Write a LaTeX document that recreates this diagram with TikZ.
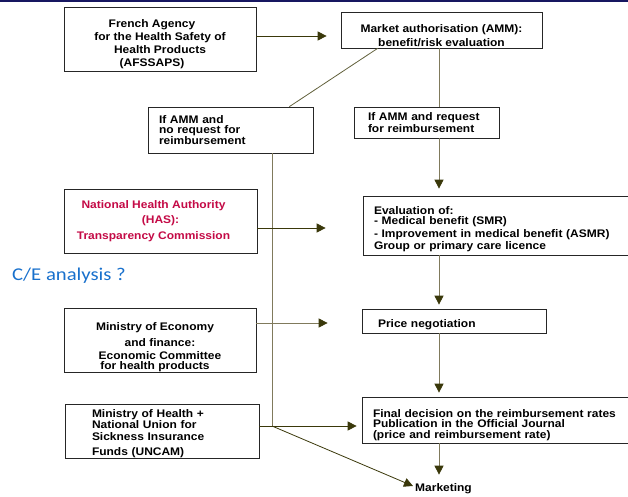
\documentclass[tikz,border=0pt]{standalone}
\usepackage{fontspec}
\newfontfamily\boxfont{Liberation Sans}[FakeStretch=1.09]
\newfontfamily\cefont{Carlito}[FakeStretch=1.15]
\usetikzlibrary{arrows.meta,shadows}
\definecolor{topnavy}{RGB}{22,22,96}
\definecolor{olivedark}{RGB}{58,56,10}
\definecolor{olivegrey}{RGB}{128,122,92}
\definecolor{hasred}{RGB}{196,10,70}
\definecolor{ceblue}{RGB}{24,112,204}
\newcommand\boxtxt[1]{\boxfont\bfseries\fontsize{11}{#1}\selectfont}
\newcommand\lift[1]{\rule{0pt}{#1}}
\newcommand\nudge[1]{\hspace*{#1}}

\tikzset{
  box/.style={draw=black!85, line width=0.7pt, fill=white, inner ysep=0pt,
    drop shadow={shadow xshift=0.8pt, shadow yshift=-0.8pt, fill=black!40, opacity=1}},
  lbox/.style={box, align=left, inner xsep=#1},
  cbox/.style={box, align=center},
  conn/.style={draw=olivegrey, line width=0.8pt},
  arr/.style={conn, -{Triangle[length=9pt, width=9pt, color=olivedark]}},
  darr/.style={arr, draw=olivedark}
}

\begin{document}
\begin{tikzpicture}[x=1pt, y=-1pt]
\useasboundingbox (0,0) rectangle (628,497);
\clip (0,0) rectangle (628,497);
\fill[topnavy] (0,0) rectangle (628,2.5);

\node[cbox, minimum width=192pt, minimum height=64pt, font=\boxtxt{13}] (afssaps) at (160,39)
  {\lift{18pt}French Agency\nudge{16pt}\\for the Health Safety of\nudge{16pt}\\Health Products\nudge{16pt}\\(AFSSAPS)\nudge{16pt}};
\node[cbox, minimum width=201pt, minimum height=36pt, font=\boxtxt{14}] (amm) at (441.5,30)
  {\lift{19pt}Market authorisation (AMM):\\benefit/risk evaluation};
\node[lbox=11pt, text width=143pt, minimum height=46pt, font=\boxtxt{10}] (norq) at (230.5,130)
  {If AMM and\\no request for\\reimbursement};
\node[lbox=14pt, text width=117pt, minimum height=31pt, font=\boxtxt{10}] (rq) at (426.5,122.5)
  {If AMM and request\\for reimbursement};
\node[cbox, minimum width=193pt, minimum height=64pt, font=\boxtxt{15.5}, text=hasred] (has) at (160.5,221)
  {National Health Authority\nudge{14pt}\\(HAS):\nudge{14pt}\\Transparency Commission\nudge{14pt}};
\node[lbox=11pt, text width=258pt, minimum height=59pt, font=\boxtxt{9.5}] (eval) at (503,225.5)
  {\lift{15pt}Evaluation of:\\- Medical benefit (SMR)\\[2.5pt]- Improvement in medical benefit (ASMR)\\Group or primary care licence};
\node[anchor=west, inner sep=0pt, font=\cefont\fontsize{18}{20}\selectfont, text=ceblue] (ce) at (12,275.5)
  {C/E analysis ?};
\node[cbox, minimum width=192pt, minimum height=63pt, font=\boxtxt{10}] (eco) at (160,340.5)
  {\lift{22pt}Ministry of Economy\nudge{10pt}\\[5pt]and finance:\nudge{10pt}\\[3pt]Economic Committee\nudge{10pt}\\for health products\nudge{10pt}};
\node[lbox=16pt, text width=152pt, minimum height=24pt, font=\boxtxt{10}] (price) at (454,321)
  {\lift{16pt}Price negotiation};
\node[lbox=11pt, text width=258pt, minimum height=46pt, font=\boxtxt{10.5}] (final) at (502,420)
  {\lift{18pt}Final decision on the reimbursement rates\\Publication in the Official Journal\\(price and reimbursement rate)};
\node[lbox=27pt, text width=140pt, minimum height=54pt, font=\boxtxt{11}] (uncam) at (162,431)
  {\lift{13pt}Ministry of Health +\\National Union for\\[1.5pt]Sickness Insurance\\[3.5pt]Funds (UNCAM)};
\node[inner sep=2pt, font=\boxtxt{12}] (marketing) at (443.5,489) {Marketing};

\coordinate (col) at (439,0);
\coordinate (spine) at (272,426);

\draw[darr, shorten >=14pt] ([yshift=3pt]afssaps.east) -- ([yshift=3pt]afssaps.east -| amm.west);
\draw[conn, draw=olivedark!80] ([xshift=37pt]amm.south west) -- ([xshift=-24pt]norq.north east);
\draw[conn] (amm.south -| col) -- (rq.north -| col);
\foreach \a/\b/\g in {rq/eval/7pt, eval/price/4pt, price/final/4pt, final/marketing/7pt}
  \draw[arr, shorten >=\g] (\a.south -| col) -- (\b.north -| col);
\draw[conn] (norq.south -| spine) -- (spine);
\draw[darr, shorten >=37pt] ([yshift=-7pt]has.east) -- ([yshift=-7pt]has.east -| eval.west);
\draw[arr, shorten >=34pt] ([yshift=17.5pt]eco.east) -- ([yshift=17.5pt]eco.east -| price.west);
\draw[darr, shorten >=5pt] ([yshift=5pt]uncam.east) -- ([yshift=5pt]uncam.east -| final.west);
\draw[darr] (spine) -- ([yshift=3pt]marketing.west);
\end{tikzpicture}
\end{document}
